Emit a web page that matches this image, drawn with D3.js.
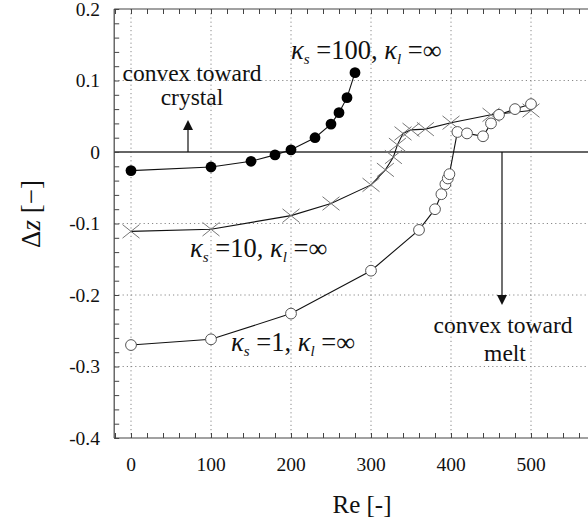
<!DOCTYPE html>
<html><head><meta charset="utf-8">
<script src="https://cdn.jsdelivr.net/npm/d3@7"></script>
<style>
body{margin:0;background:#fff}
text{font-family:"Liberation Serif","Times New Roman",serif;fill:#111}
</style>
</head><body>
<svg id="c" width="588" height="523"></svg>
<script>
// ---- data ----
const re100 = [0,100,150,180,200,230,250,260,270,280];
const dz100 = [-0.026,-0.021,-0.013,-0.004,0.003,0.020,0.039,0.055,0.076,0.111];
const re10  = [0,100,200,250,300,318,328,333,340,350,368,400,450,500];
const dz10  = [-0.111,-0.108,-0.089,-0.072,-0.046,-0.025,-0.007,0.010,0.026,0.031,0.032,0.041,0.052,0.058];
const re1   = [0,100,200,300,360,380,388,393,396,398,408,420,440,450,460,480,500];
const dz1   = [-0.270,-0.262,-0.226,-0.166,-0.109,-0.080,-0.059,-0.045,-0.037,-0.031,0.028,0.026,0.022,0.040,0.052,0.060,0.067];
const xTicks = [0,100,200,300,400,500];
const xTickLabels = ["0","100","200","300","400","500"];
const yTicks = [0.2,0.1,0,-0.1,-0.2,-0.3,-0.4];
const yTickLabels = ["0.2","0.1","0","-0.1","-0.2","-0.3","-0.4"];
const yGrid = [0.1,-0.1,-0.2,-0.3];

// ---- scales ----
const x = d3.scaleLinear().domain([0,500]).range([131,531]);
const y = d3.scaleLinear().domain([0.2,-0.4]).range([9,438]);
const xMin = -21, xMax = 575, yMax = 0.2, yMin = -0.4;

const svg = d3.select("#c");

// grid
const g = svg.append("g");
g.selectAll("line.vg").data(xTicks).join("line")
  .attr("x1",d=>x(d)).attr("x2",d=>x(d)).attr("y1",y(yMax)).attr("y2",y(yMin))
  .attr("stroke","#888").attr("stroke-width",1).attr("stroke-dasharray","1.2,3");
g.selectAll("line.hg").data(yGrid).join("line")
  .attr("x1",x(xMin)).attr("x2",x(xMax)).attr("y1",d=>y(d)).attr("y2",d=>y(d))
  .attr("stroke","#888").attr("stroke-width",1).attr("stroke-dasharray","1.2,3");

// zero line
svg.append("line").attr("x1",x(xMin)).attr("x2",x(xMax)).attr("y1",y(0)).attr("y2",y(0))
  .attr("stroke","#333").attr("stroke-width",1.3);

// frame axes with minor ticks
const minorX = d3.range(-20,580,20);
const minorY = d3.range(-40,21,2).map(v=>v/100);
const axB = svg.append("g").attr("transform",`translate(0,${y(yMin)})`)
  .call(d3.axisBottom(x).tickValues(minorX).tickSize(-5).tickFormat(""));
const axT = svg.append("g").attr("transform",`translate(0,${y(yMax)})`)
  .call(d3.axisTop(x).tickValues(minorX).tickSize(-5).tickFormat(""));
const axL = svg.append("g").attr("transform",`translate(${x(xMin)},0)`)
  .call(d3.axisLeft(y).tickValues(minorY).tickSize(-5).tickFormat(""));
[axB,axT,axL].forEach(a=>{a.select(".domain").remove();a.selectAll("line").attr("stroke","#444");});
svg.append("line").attr("x1",x(xMin)).attr("x2",x(xMax)).attr("y1",y(yMin)).attr("y2",y(yMin)).attr("stroke","#444").attr("stroke-width",1.2);
svg.append("line").attr("x1",x(xMin)).attr("x2",x(xMax)).attr("y1",y(yMax)).attr("y2",y(yMax)).attr("stroke","#444").attr("stroke-width",1.2);
svg.append("line").attr("x1",x(xMin)).attr("x2",x(xMin)).attr("y1",y(yMax)).attr("y2",y(yMin)).attr("stroke","#444").attr("stroke-width",1.2);

// tick labels
svg.selectAll("text.xl").data(xTicks).join("text")
  .attr("x",d=>x(d)).attr("y",471).attr("text-anchor","middle").attr("font-size",19.5)
  .text((d,i)=>xTickLabels[i]);
svg.selectAll("text.yl").data(yTicks).join("text")
  .attr("x",100).attr("y",d=>y(d)+6.5).attr("text-anchor","end").attr("font-size",19.5)
  .text((d,i)=>yTickLabels[i]);

// axis titles
svg.append("text").attr("x",362).attr("y",513).attr("text-anchor","middle").attr("font-size",25).text("Re [-]");
const yt = svg.append("text").attr("transform","translate(40,214) rotate(-90)").attr("text-anchor","middle").attr("font-size",27);
yt.append("tspan").text("Δ");
yt.append("tspan").attr("font-style","italic").text("z");
yt.append("tspan").text(" [−]");

// series
const line = d3.line().x(d=>x(d[0])).y(d=>y(d[1]));
const s100 = re100.map((r,i)=>[r,dz100[i]]);
const s10 = re10.map((r,i)=>[r,dz10[i]]);
const s1 = re1.map((r,i)=>[r,dz1[i]]);
[s1,s10,s100].forEach(s=>svg.append("path").attr("d",line(s)).attr("fill","none").attr("stroke","#111").attr("stroke-width",1.1));

// crosses
svg.selectAll("path.cr").data(s10).join("path")
  .attr("d",d=>{const cx=x(d[0]),cy=y(d[1]),r=8.5;return `M${cx-r},${cy-r*0.8}L${cx+r},${cy+r*0.8}M${cx-r},${cy+r*0.8}L${cx+r},${cy-r*0.8}`;})
  .attr("stroke","#777").attr("stroke-width",1).attr("fill","none");
// open circles
svg.selectAll("circle.oc").data(s1).join("circle")
  .attr("cx",d=>x(d[0])).attr("cy",d=>y(d[1])).attr("r",5.4)
  .attr("fill","#fff").attr("stroke","#555").attr("stroke-width",1);
// filled circles
svg.selectAll("circle.fc").data(s100).join("circle")
  .attr("cx",d=>x(d[0])).attr("cy",d=>y(d[1])).attr("r",5.4).attr("fill","#000");

// kappa labels
function kappa(px,py,sVal){
  const t = svg.append("text").attr("x",px).attr("y",py).attr("font-size",26.5);
  t.append("tspan").attr("font-style","italic").text("κ");
  t.append("tspan").attr("font-style","italic").attr("font-size",15).attr("dy",5).text("s");
  t.append("tspan").attr("dy",-5).text(" ="+sVal+", ");
  t.append("tspan").attr("font-style","italic").text("κ");
  t.append("tspan").attr("font-style","italic").attr("font-size",15).attr("dy",5).text("l");
  t.append("tspan").attr("dy",-5).text(" =∞");
}
kappa(291,59,"100");
kappa(190,257,"10");
kappa(231,351,"1");

// annotations
svg.append("text").attr("x",192).attr("y",81).attr("text-anchor","middle").attr("font-size",23.5).text("convex toward");
svg.append("text").attr("x",192).attr("y",105).attr("text-anchor","middle").attr("font-size",23.5).text("crystal");
svg.append("text").attr("x",503).attr("y",333).attr("text-anchor","middle").attr("font-size",23.5).text("convex toward");
svg.append("text").attr("x",505).attr("y",361).attr("text-anchor","middle").attr("font-size",23.5).text("melt");

// arrows
function arrow(ax,y0,y1){
  const dir = y1<y0 ? -1 : 1;
  svg.append("line").attr("x1",ax).attr("x2",ax).attr("y1",y0).attr("y2",y1-dir*9).attr("stroke","#111").attr("stroke-width",1.2);
  svg.append("path").attr("d",`M${ax},${y1}L${ax-5},${y1-dir*10}L${ax+5},${y1-dir*10}Z`).attr("fill","#111");
}
arrow(188,y(0),120);
arrow(502,y(0),305);
</script>
</body></html>
